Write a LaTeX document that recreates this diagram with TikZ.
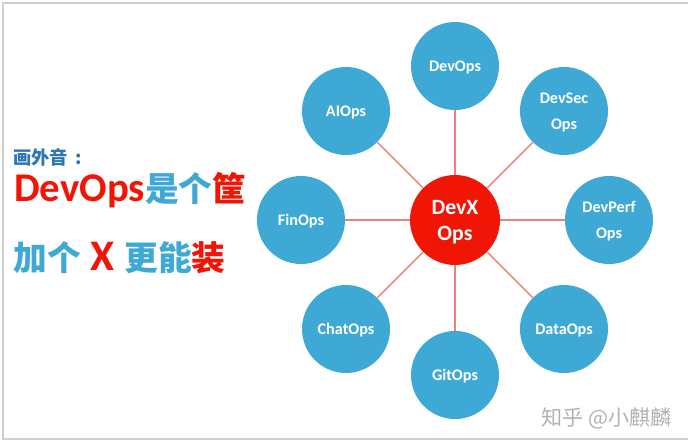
\documentclass[tikz,border=0pt]{standalone}
\usepackage{fontspec}
\setmainfont{Carlito}
\newfontfamily\cjk{Noto Sans CJK SC}
\definecolor{ballblue}{HTML}{3FA9D6}
\definecolor{hubred}{HTML}{F01505}
\definecolor{linkred}{HTML}{EE8078}
\definecolor{framegray}{HTML}{D0D0D0}
\definecolor{notedblue}{HTML}{2E75B6}
\tikzset{
outer/.style={circle, fill=ballblue, minimum size=88*0.025cm, inner sep=0pt, text=white, align=center, text depth=0pt, font=\bfseries\fontsize{11.5}{18.5}\selectfont},
hub/.style={circle, fill=hubred, minimum size=90*0.025cm, inner sep=0pt, text=white, align=center, text depth=0pt, font=\bfseries\fontsize{15.5}{18.5}\selectfont},
headline/.style={inner sep=0pt, anchor=base west}
}
\begin{document}
\begin{tikzpicture}[x=0.025cm, y=-0.025cm]
\useasboundingbox (0, 0) rectangle (688, 446);
\fill [white] (0, 0) rectangle (688, 446);
\draw [framegray, line width=1pt] (688, 3) -- (3, 3) -- (3, 439) -- (688, 439);
\node [hub] (devx) at (455, 220) {DevX\\Ops};
\node [outer] (devops) at (455, 66) {DevOps};
\node [outer] (devsec) at (564, 111) {DevSec\\Ops};
\node [outer] (devperf) at (609, 220) {DevPerf\\Ops};
\node [outer] (dataops) at (564, 329) {DataOps};
\node [outer] (gitops) at (455, 375) {GitOps};
\node [outer] (chatops) at (346, 329) {ChatOps};
\node [outer] (finops) at (301, 220) {FinOps};
\node [outer] (aiops) at (346, 111) {AIOps};
\foreach \x in {devops, devsec, devperf, dataops, gitops, chatops, finops, aiops}{\draw [linkred, line width=1pt] (devx) -- (\x);}
\node [headline, text=notedblue, font=\bfseries\cjk\fontsize{13}{15}\selectfont] (note) at (13, 164) {画外音\hspace{5pt}:};
\node [headline, font=\bfseries\fontsize{29}{30}\selectfont] (line1) at (14, 201) {\textcolor{hubred}{DevOps}\textcolor{ballblue}{\cjk\fontsize{24}{30}\selectfont 是个}\textcolor{hubred}{\cjk\fontsize{24}{30}\selectfont 筐}};
\node [headline, font=\bfseries\fontsize{24}{30}\selectfont] (line2) at (13, 270) {\textcolor{ballblue}{\cjk 加个}\hspace{7pt}\textcolor{hubred}{\fontsize{31}{30}\selectfont X}\hspace{7pt}\textcolor{ballblue}{\cjk 更能}\textcolor{hubred}{\cjk 装}};
\node [headline, text=black!30, font=\cjk\fontsize{15}{17}\selectfont] (mark) at (541, 425) {知乎 @小麒麟};
\end{tikzpicture}
\end{document}
